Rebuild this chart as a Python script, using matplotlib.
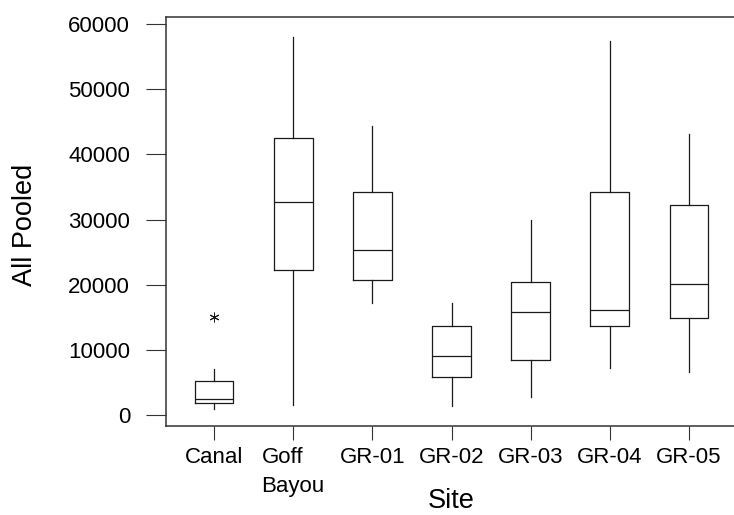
import matplotlib
matplotlib.use("Agg")
import matplotlib.pyplot as plt

plt.rcParams["font.family"] = ["Liberation Sans", "DejaVu Sans"]

sites = ["Canal", "Goff\nBayou", "GR-01", "GR-02", "GR-03", "GR-04", "GR-05"]
whisker_low = [970, 1470, 17180, 1320, 2760, 7210, 6590]
q1 = [1840, 22180, 20700, 5770, 8440, 13700, 14920]
median = [2500, 32670, 25310, 9050, 15800, 16050, 20030]
q3 = [5260, 42490, 34250, 13650, 20340, 34250, 32300]
whisker_high = [7100, 58080, 44420, 17230, 29910, 57420, 43140]
outliers = [[14970], [], [], [], [], [], []]

stats = []
for i, name in enumerate(sites):
    stats.append({
        "label": name,
        "whislo": whisker_low[i],
        "q1": q1[i],
        "med": median[i],
        "q3": q3[i],
        "whishi": whisker_high[i],
        "fliers": outliers[i],
    })

fig = plt.figure(figsize=(7.34, 5.15), dpi=100)
ax = fig.add_axes([166 / 734, 1 - 425.7 / 515, 571 / 734, 408.4 / 515])

line_kw = dict(color="#1a1a1a", linewidth=0.9)
ax.bxp(
    stats,
    positions=range(1, len(sites) + 1),
    widths=0.49,
    showcaps=False,
    boxprops=line_kw,
    whiskerprops=line_kw,
    medianprops=line_kw,
    flierprops=dict(marker=(6, 2, 0), markersize=7, markeredgewidth=0.7,
                    markeredgecolor="#1a1a1a", linestyle="none"),
)

ax.set_xlim(0.394, 7.606)
ax.set_ylim(-1640, 61030)
ax.set_yticks([0, 10000, 20000, 30000, 40000, 50000, 60000])
ax.set_xticks(range(1, len(sites) + 1))
ax.set_xticklabels(sites)
for lab in ax.get_xticklabels():
    lab.set_multialignment("left")
    lab.set_linespacing(1.55)

ax.tick_params(axis="y", length=14.4, width=0.8, pad=11.5, labelsize=16, color="#333333")
ax.tick_params(axis="x", length=10, width=0.8, pad=5, labelsize=16, color="#333333")

for side in ["left", "top", "bottom", "right"]:
    ax.spines[side].set_linewidth(1.1)
    ax.spines[side].set_color("#333333")

ax.set_ylabel("All Pooled", fontsize=19.5, va="center")
ax.yaxis.set_label_coords(-0.247, 0.491)
ax.set_xlabel("Site", fontsize=19.5, va="top")
ax.xaxis.set_label_coords(0.5, -0.152)

fig.savefig("out.png", dpi=100)
